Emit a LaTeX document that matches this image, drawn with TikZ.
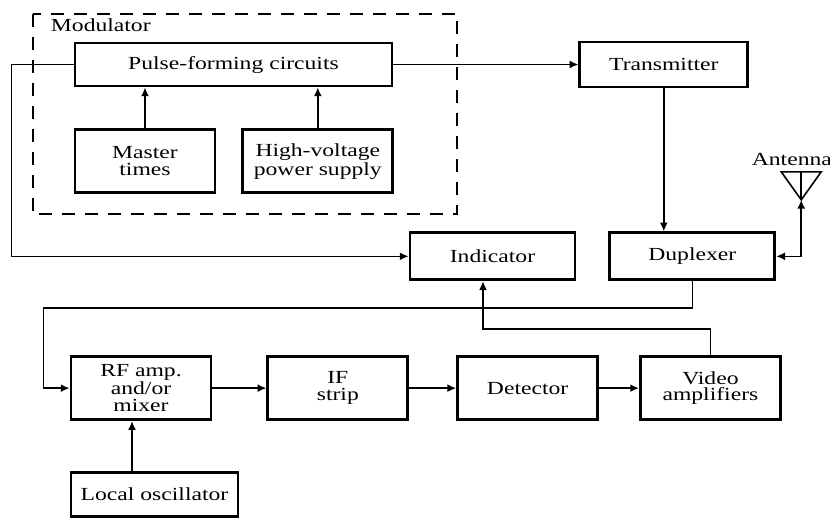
\documentclass[tikz,border=0pt]{standalone}
\usepackage{fontspec}
\setmainfont[FakeStretch=1.28]{Liberation Serif}
\usepackage{tikz}
\usetikzlibrary{arrows.meta, positioning, calc}

\begin{document}
\begin{tikzpicture}[
        >={Latex[length=5pt,width=4.5pt]},
        font=\fontsize{10.5}{9.5}\selectfont,
        block/.style={rectangle, draw, line width=1.6pt, align=center, minimum width=2.8cm, minimum height=1.26cm, inner sep=0pt},
        wire/.style={line width=0.9pt},
        modbox/.style={draw, line width=1.1pt, dash pattern=on 0.26cm off 0.2cm}
    ]
        \useasboundingbox (0,0) rectangle (16.6,-10.38);
        \clip (0,0) rectangle (16.6,-10.38);

        % Modulator
        \node[block, minimum width=6.34cm, minimum height=0.86cm] (pulse) at (4.67,-1.29) {Pulse-forming circuits};
        \node[block, below right=0.82cm and 0cm of pulse.south west] (master) {Master\\times};
        \node[block, minimum width=3cm, right=0.5cm of master] (hv) {High-voltage\\power supply};
        \draw[modbox] ($(pulse.north west)+(-0.82,0.56)$) rectangle ($(hv.south east)+(1.26,-0.4)$);
        \node[anchor=west, inner sep=0pt] (modlabel) at ($(pulse.north west)+(-0.46,0.32)$) {Modulator};

        % Transmit side
        \node[block, minimum width=3.36cm, minimum height=0.9cm, right=3.7cm of pulse] (tx) {Transmitter};
        \node[block, minimum width=3.3cm, minimum height=0.94cm, below right=2.86cm and 0.6cm of tx.south west] (dup) {Duplexer};
        \node[block, minimum width=3.3cm, minimum height=0.94cm, left=0.64cm of dup] (ind) {Indicator};

        % Receive chain
        \node[block, below right=3.22cm and -0.08cm of master.south west] (rf) {RF amp.\\and/or\\mixer};
        \node[block, right=1.08cm of rf] (ifs) {IF\\strip};
        \node[block, right=0.94cm of ifs] (det) {Detector};
        \node[block, right=0.8cm of det] (vid) {Video\\amplifiers};
        \node[block, minimum width=3.34cm, minimum height=0.88cm, below right=1cm and 0cm of rf.south west] (lo) {Local oscillator};

        % Links
        \draw[wire, ->] (master.north) -- (master.north |- pulse.south);
        \draw[wire, ->] (hv.north) -- (hv.north |- pulse.south);
        \draw[wire, ->] (pulse.east) -- (tx.west);
        \draw[wire, ->] (tx.south) -- (tx.south |- dup.north);
        \coordinate (fb) at ($(pulse.west)+(-1.24,0)$);
        \draw[wire, ->] (pulse.west) -- (fb) |- (ind.west);

        % Antenna
        \coordinate[above right=1.13cm and 0.5cm of dup.east] (ant);
        \draw[wire, <->] (dup.east) -| (ant);
        \draw[wire] (ant) -- ++(-0.4,0.56) -- ++(0.8,0) -- cycle;
        \draw[wire] (ant) -- ++(0,0.56);
        \node[anchor=east, inner sep=0pt] (antlabel) at ($(ant)+(0.62,0.8)$) {Antenna};

        \coordinate (rfin) at ($(rf.west)+(-0.52,0)$);
        \draw[wire, ->] (dup.south) -- ++(0,-0.54) -| (rfin) -- (rf.west);
        \draw[wire, ->] (rf) -- (ifs);
        \draw[wire, ->] (ifs) -- (det);
        \draw[wire, ->] (det) -- (vid);
        \draw[wire, ->] (vid.north) -- ++(0,0.52) -| ([xshift=-0.19cm]ind.south);
        \draw[wire, ->] ([xshift=-0.18cm]rf.south |- lo.north) -- ([xshift=-0.18cm]rf.south);

    \end{tikzpicture}
\end{document}
